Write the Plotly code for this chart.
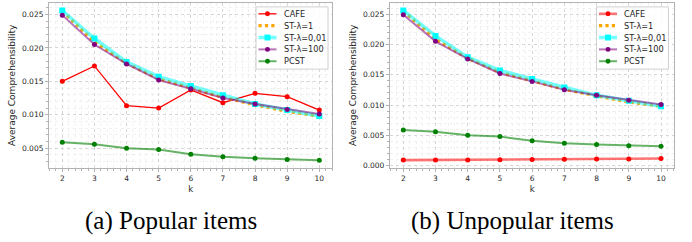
import plotly.graph_objects as go

k = [2, 3, 4, 5, 6, 7, 8, 9, 10]

# (a) Popular items
pop_cafe = [0.0150, 0.0173, 0.01135, 0.0110, 0.0137, 0.0118, 0.0132, 0.0127, 0.0107]
pop_st1 = [0.0255, 0.0209, 0.0177, 0.0154, 0.0140, 0.0126, 0.0115, 0.0105, 0.0098]
pop_st001 = [0.0256, 0.0214, 0.0179, 0.0157, 0.0143, 0.0129, 0.0116, 0.0107, 0.0098]
pop_st100 = [0.0249, 0.0205, 0.0176, 0.0152, 0.0139, 0.0125, 0.0116, 0.0108, 0.0101]
pop_pcst = [0.0059, 0.0056, 0.0050, 0.0048, 0.0041, 0.0037, 0.0035, 0.0033, 0.0032]

# (b) Unpopular items
unp_cafe = [0.00092, 0.00095, 0.00093, 0.00097, 0.00100, 0.00107, 0.00108, 0.00108, 0.00117]
unp_st1 = [0.0255, 0.0209, 0.0177, 0.0154, 0.0140, 0.0126, 0.0115, 0.0105, 0.0098]
unp_st001 = [0.0256, 0.0214, 0.0179, 0.0157, 0.0143, 0.0129, 0.0116, 0.0107, 0.0098]
unp_st100 = [0.0249, 0.0205, 0.0176, 0.0152, 0.0139, 0.0125, 0.0116, 0.0108, 0.0101]
unp_pcst = [0.0059, 0.0056, 0.0050, 0.0048, 0.0041, 0.0037, 0.0035, 0.0033, 0.0032]

series_names = ["CAFE", "ST-λ=1", "ST-λ=0,01", "ST-λ=100", "PCST"]
y_ticks_left = [0.005, 0.010, 0.015, 0.020, 0.025]
y_ticks_right = [0.000, 0.005, 0.010, 0.015, 0.020, 0.025]
captions = ["(a) Popular items", "(b) Unpopular items"]

W, H = 692, 242
fig = go.Figure()

def px(x):
    return x / W

def py(y):
    return 1 - y / H

def styles(cafe_line):
    return [
        dict(line=cafe_line, marker=dict(color="#ff0000", size=5, symbol="circle"), mode="lines+markers"),
        dict(line=dict(color="#ffa500", width=3.2, dash="dot"), marker=dict(color="#ffa500", size=1), mode="lines"),
        dict(line=dict(color="rgba(0,255,255,0.55)", width=3.5), marker=dict(color="#00ffff", size=6, symbol="square"), mode="lines+markers"),
        dict(line=dict(color="rgba(128,0,128,0.55)", width=2), marker=dict(color="#800080", size=5, symbol="circle"), mode="lines+markers"),
        dict(line=dict(color="rgba(0,128,0,0.6)", width=2), marker=dict(color="#008000", size=5, symbol="circle"), mode="lines+markers"),
    ]

shapes = []
annotations = []

def add_panel(data, xa, ya, cafe_line, box_left):
    st = styles(cafe_line)
    for name, yv, s in zip(series_names, data, st):
        fig.add_trace(go.Scatter(x=k, y=yv, name=name, xaxis=xa, yaxis=ya,
                                 showlegend=False, **s))
    # hand-drawn matplotlib-like legend
    box_right = box_left + 72
    shapes.append(dict(type="rect", xref="paper", yref="paper",
                       x0=px(box_left), x1=px(box_right), y0=py(70), y1=py(7),
                       line=dict(color="#d0d0d0", width=1), fillcolor="rgba(255,255,255,0.85)",
                       layer="above"))
    for i, (name, s) in enumerate(zip(series_names, st)):
        yc = 14 + 12 * i
        ln = dict(s["line"])
        shapes.append(dict(type="line", xref="paper", yref="paper",
                           x0=px(box_left + 2.5), x1=px(box_left + 20.5), y0=py(yc), y1=py(yc),
                           line=ln, layer="above"))
        if s["mode"] == "lines+markers":
            m = s["marker"]
            r = m["size"] / 2
            cx = box_left + 11.5
            shapes.append(dict(type="circle" if m["symbol"] == "circle" else "rect",
                               xref="paper", yref="paper",
                               x0=px(cx - r), x1=px(cx + r), y0=py(yc + r), y1=py(yc - r),
                               fillcolor=m["color"], line=dict(width=0), layer="above"))
        annotations.append(dict(text=name, xref="paper", yref="paper",
                                x=px(box_left + 25.5), y=py(yc), xanchor="left", yanchor="middle",
                                showarrow=False,
                                font=dict(family="DejaVu Sans", size=8.2, color="#262626")))

add_panel([pop_cafe, pop_st1, pop_st001, pop_st100, pop_pcst], "x", "y",
          dict(color="#ff0000", width=1.3), 256)
add_panel([unp_cafe, unp_st1, unp_st001, unp_st100, unp_pcst], "x2", "y2",
          dict(color="rgba(255,0,0,0.55)", width=2.6), 596.5)

ydom = [1 - 169.8 / H, 1 - 3 / H]
spine = "#b3b3b3"
font = dict(family="DejaVu Sans", size=7.5, color="#262626")

def xaxis(dom, anchor):
    return dict(domain=dom, anchor=anchor, range=[1.6, 10.4], tickvals=k,
                showline=True, mirror=True, linecolor=spine, linewidth=1,
                ticks="outside", ticklen=3.5, tickcolor=spine,
                showgrid=True, gridcolor="#d6d6d6", griddash="dot", gridwidth=0.8,
                minor=dict(dtick=0.2, ticks="outside", ticklen=2, tickcolor=spine,
                           showgrid=True, gridcolor="#f0f0f0", gridwidth=0.6),
                title=dict(text="k", font=dict(family="DejaVu Sans", size=8.5, color="#262626"), standoff=3),
                tickfont=font, zeroline=False)

def yaxis(dom, anchor, rng, tv):
    return dict(domain=dom, anchor=anchor, range=rng, tickvals=tv, tickformat=".3f",
                showline=True, mirror=True, linecolor=spine, linewidth=1,
                ticks="outside", ticklen=3.5, tickcolor=spine,
                showgrid=True, gridcolor="#d6d6d6", griddash="dot", gridwidth=0.8,
                minor=dict(dtick=0.001, ticks="outside", ticklen=2, tickcolor=spine,
                           showgrid=True, gridcolor="#f0f0f0", gridwidth=0.6),
                title=dict(text="Average Comprehensibility", font=dict(family="DejaVu Sans", size=9, color="#262626"), standoff=4),
                tickfont=font, zeroline=False)

xl = [49.45 / W, 332.15 / W]
xr = [390.4 / W, 673.9 / W]

for cx, cap in zip([171, 512], captions):
    annotations.append(dict(text=cap, x=px(cx), y=py(223.5), xref="paper", yref="paper",
                            xanchor="center", yanchor="middle", showarrow=False,
                            font=dict(family="Liberation Serif", size=25, color="black")))

fig.update_layout(
    width=W, height=H, margin=dict(l=0, r=0, t=0, b=0),
    paper_bgcolor="white", plot_bgcolor="white", showlegend=False,
    xaxis=xaxis(xl, "y"), yaxis=yaxis(ydom, "x", [0.00208, 0.02672], y_ticks_left),
    xaxis2=xaxis(xr, "y2"), yaxis2=yaxis(ydom, "x2", [-0.000335, 0.026835], y_ticks_right),
    shapes=shapes, annotations=annotations,
)

fig.write_html("out.html", config={"displayModeBar": False},
               post_script="document.body.style.margin='0px';")
